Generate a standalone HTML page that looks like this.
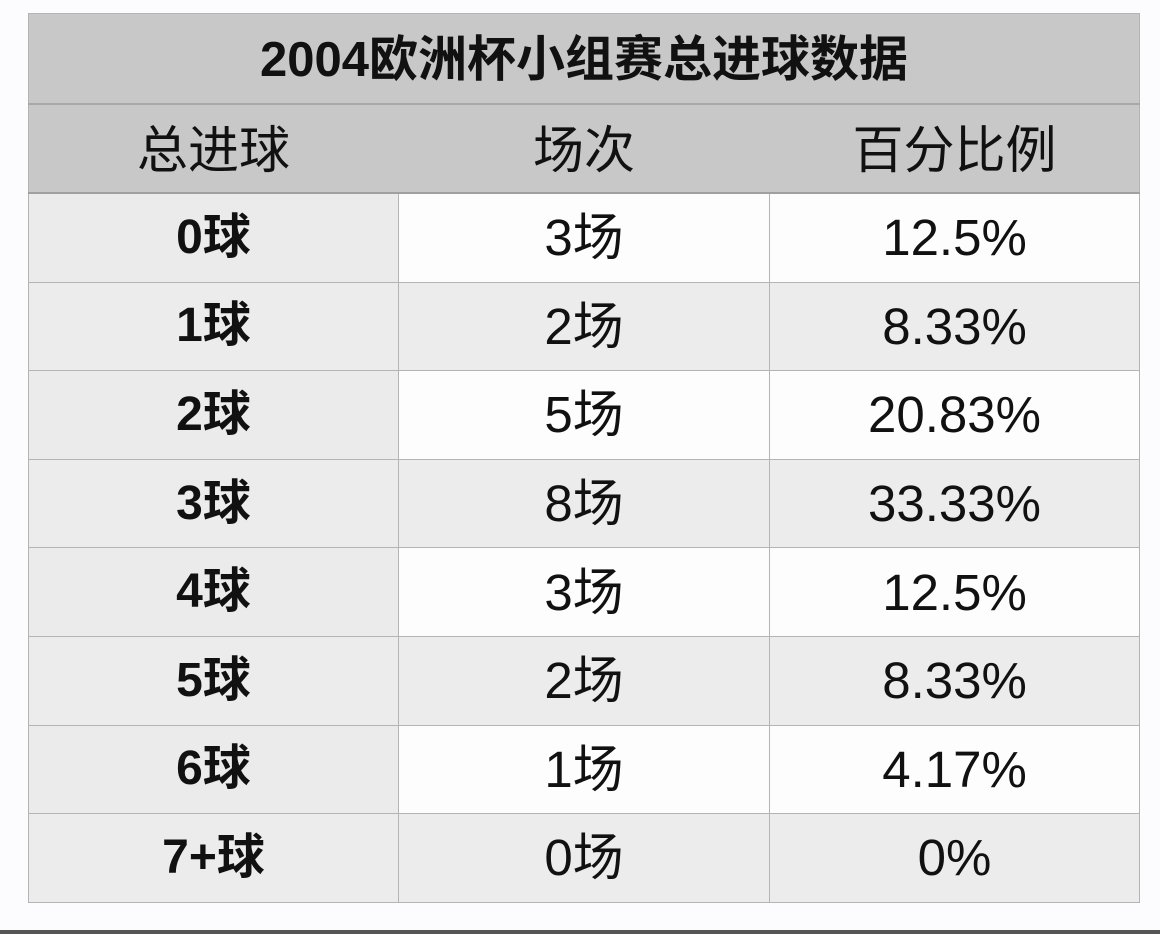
<!DOCTYPE html>
<html><head><meta charset="utf-8"><style>
html,body{margin:0;padding:0;background:#fcfcfe;width:1160px;height:934px;overflow:hidden;position:relative;font-family:"Liberation Sans","Noto Sans CJK SC",sans-serif;}
table{position:absolute;left:28px;top:13px;border-collapse:collapse;table-layout:fixed;width:1111px;}
td{border:1.5px solid #b4b4b4;text-align:center;color:#111;padding:0;line-height:1;}
.t td{background:#c8c8c8;height:85px;padding-top:4px;font-size:49px;font-weight:bold;border-bottom:2px solid #a8a8a8;}
.h td{background:#c8c8c8;height:83px;padding-top:4px;font-size:51px;border-left-color:#c8c8c8;border-right-color:#c8c8c8;border-bottom:2px solid #a0a0a0;}
.h td:first-child{border-left-color:#b4b4b4}.h td:last-child{border-right-color:#b4b4b4}
.r td{height:87.6px;font-size:51px;background:#fdfdfd;}
.r td:first-child{background:#ebebeb;font-weight:bold;font-size:48px;}
.r.g td{background:#ececec;}
.bar{position:absolute;left:0;top:930px;width:1160px;height:4px;background:#555;}
</style></head><body>
<table>
<colgroup><col style="width:370px"><col style="width:371px"><col style="width:370px"></colgroup>
<tr class="t"><td colspan="3">2004欧洲杯小组赛总进球数据</td></tr>
<tr class="h"><td>总进球</td><td>场次</td><td>百分比例</td></tr>
<tr class="r"><td>0球</td><td>3场</td><td>12.5%</td></tr>
<tr class="r g"><td>1球</td><td>2场</td><td>8.33%</td></tr>
<tr class="r"><td>2球</td><td>5场</td><td>20.83%</td></tr>
<tr class="r g"><td>3球</td><td>8场</td><td>33.33%</td></tr>
<tr class="r"><td>4球</td><td>3场</td><td>12.5%</td></tr>
<tr class="r g"><td>5球</td><td>2场</td><td>8.33%</td></tr>
<tr class="r"><td>6球</td><td>1场</td><td>4.17%</td></tr>
<tr class="r g"><td>7+球</td><td>0场</td><td>0%</td></tr>
</table>
<div class="bar"></div>
</body></html>
